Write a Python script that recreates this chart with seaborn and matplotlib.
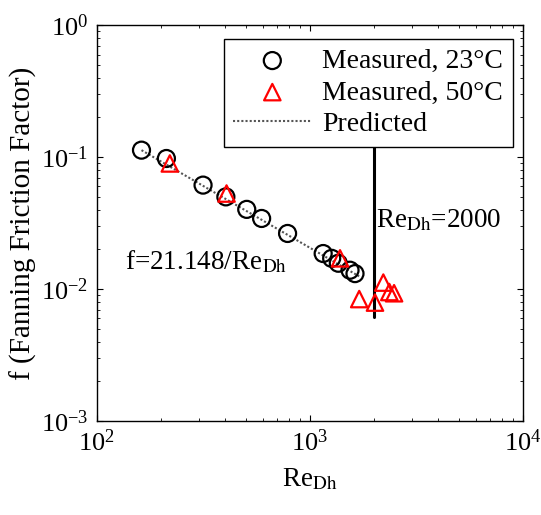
import numpy as np
import pandas as pd
import matplotlib
matplotlib.use("Agg")
import matplotlib.pyplot as plt
import seaborn as sns

# Measured data, 23 C
re_23 = [162, 212, 315, 403, 505, 593, 785, 1153, 1264, 1358, 1541, 1626]
f_23 = [0.113, 0.0977, 0.0614, 0.050, 0.0402, 0.0343, 0.0264, 0.0186, 0.0171, 0.0157, 0.0139, 0.0131]

# Measured data, 50 C
re_50 = [220, 406, 1383, 1702, 2018, 2208, 2356, 2480]
f_50 = [0.0896, 0.053, 0.0171, 0.0084, 0.0079, 0.0112, 0.0095, 0.0093]

# Predicted line end points
re_pred = [162, 1700]
f_pred = [0.113, 0.0125]

# Transition marker
re_trans = [2000, 2000]
f_trans = [0.0061, 0.2]

sns.set_style("ticks")
plt.rcParams['font.family'] = ['Liberation Serif', 'DejaVu Serif']
plt.rcParams['mathtext.fontset'] = 'stix'
plt.rcParams['font.size'] = 19
for k in ["text.color", "axes.labelcolor", "xtick.color", "ytick.color", "axes.edgecolor"]:
    plt.rcParams[k] = "black"

fig = plt.figure(figsize=(5.41, 5.15), dpi=100)
ax = fig.add_axes([0.179, 0.1825, 0.788, 0.7685])

df23 = pd.DataFrame({"Re": re_23, "f": f_23})
df50 = pd.DataFrame({"Re": re_50, "f": f_50})
dfp = pd.DataFrame({"Re": re_pred, "f": f_pred})

sns.lineplot(data=dfp, x="Re", y="f", ax=ax, color="#555555", linestyle=(0, (1, 1)),
             linewidth=1.5, label="Predicted", zorder=2)
sns.scatterplot(data=df23, x="Re", y="f", ax=ax, marker="o", s=150, facecolor="none",
                edgecolor="black", linewidth=1.6, label="Measured, 23°C", zorder=3)
sns.scatterplot(data=df50, x="Re", y="f", ax=ax, marker="^", s=140, facecolor="none",
                edgecolor="red", linewidth=1.6, label="Measured, 50°C", zorder=4)
ax.plot(re_trans, f_trans, color="black", linewidth=2.2, zorder=1)

ax.set_xscale("log")
ax.set_yscale("log")
ax.set_xlim(1e2, 1e4)
ax.set_ylim(1e-3, 1e0)
ax.set_xlabel("Re$_{\\mathrm{Dh}}$", fontsize=19.5)
ax.set_ylabel("f (Fanning Friction Factor)", fontsize=21)
ax.tick_params(which="both", direction="in", top=True, right=True, labelsize=19)
ax.tick_params(which="major", length=4, pad=6)
ax.tick_params(which="minor", length=2)
ax.xaxis.labelpad = 8
ax.yaxis.labelpad = 3
for s in ax.spines.values():
    s.set_linewidth(1.0)

ax.text(2030, 0.033, "Re$_{\\mathrm{Dh}}$=2000", fontsize=19.5, va="center", ha="left")
ax.text(136, 0.016, "f=21.148/Re$_{\\mathrm{Dh}}$", fontsize=19.5, va="center", ha="left")

handles, labels = ax.get_legend_handles_labels()
order = [labels.index("Measured, 23°C"), labels.index("Measured, 50°C"), labels.index("Predicted")]
leg = ax.legend([handles[i] for i in order], [labels[i] for i in order],
                loc="upper right", bbox_to_anchor=(0.976, 0.966), fancybox=False,
                framealpha=1, edgecolor="black", fontsize=20, borderaxespad=0,
                handlelength=2.8, handletextpad=0.4, labelspacing=0.22, borderpad=0.35)
leg.get_frame().set_linewidth(1.0)
leg.set_zorder(10)

fig.savefig("out.png", dpi=100)
